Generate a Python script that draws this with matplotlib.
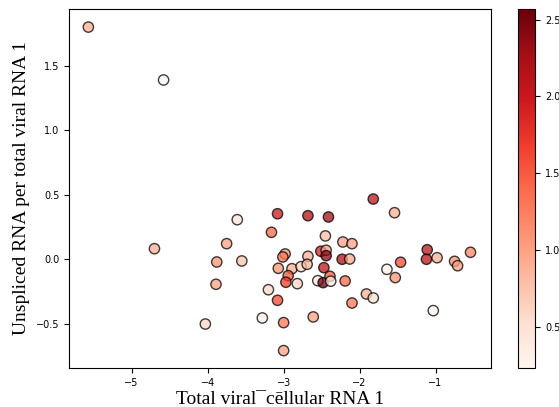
import matplotlib
matplotlib.use('Agg')
import matplotlib.pyplot as plt
import matplotlib.cm as cm
import matplotlib.colors as mcolors

# total viral/cellular RNA (x), unspliced per total viral RNA (y), colour value
x = [-5.57, -4.58, -4.70, -3.61, -3.08, -2.68, -2.41, -1.82, -1.54, -3.16,
     -3.75, -2.45, -2.22, -2.10, -3.88, -3.55, -2.98, -3.01, -2.68, -2.51,
     -2.44, -2.44, -2.23, -2.13, -3.07, -2.89, -2.77, -2.69, -2.47, -2.94,
     -2.97, -2.82, -2.55, -2.48, -2.39, -2.38, -2.19, -1.46, -1.64, -1.53,
     -1.11, -1.12, -0.98, -0.75, -0.71, -0.54, -3.89, -3.20, -3.08, -1.91,
     -1.82, -2.10, -1.03, -4.03, -3.28, -3.00, -2.61, -3.00]
y = [1.80, 1.39, 0.082, 0.307, 0.353, 0.338, 0.328, 0.467, 0.361, 0.209,
     0.121, 0.181, 0.134, 0.121, -0.021, -0.013, 0.041, 0.018, 0.023, 0.062,
     0.070, 0.028, 0.000, 0.002, -0.070, -0.073, -0.057, -0.039, -0.065, -0.127,
     -0.178, -0.189, -0.166, -0.181, -0.132, -0.170, -0.168, -0.023, -0.078, -0.142,
     0.074, 0.000, 0.012, -0.016, -0.050, 0.054, -0.194, -0.236, -0.318, -0.269,
     -0.300, -0.339, -0.398, -0.502, -0.455, -0.491, -0.447, -0.708]
c = [0.90, 0.23, 0.90, 0.45, 2.00, 2.20, 2.30, 2.10, 0.90, 1.40,
     1.00, 0.80, 1.00, 1.00, 1.10, 0.75, 1.10, 1.30, 0.90, 1.90,
     1.00, 2.40, 2.20, 0.95, 1.10, 0.90, 0.60, 0.85, 2.10, 1.50,
     1.70, 0.60, 0.35, 2.57, 1.50, 0.40, 1.40, 1.60, 0.30, 1.10,
     2.10, 2.10, 0.90, 1.10, 1.00, 1.20, 1.00, 0.60, 1.60, 0.90,
     0.50, 1.30, 0.23, 0.60, 0.30, 1.30, 1.00, 1.00]

fig = plt.figure(figsize=(5.59, 4.07), dpi=100)
ax = fig.add_axes([0.1234, 0.0958, 0.755, 0.882])
cax = fig.add_axes([0.926, 0.0958, 0.0315, 0.882])

norm = mcolors.Normalize(vmin=min(c), vmax=max(c))
ax.scatter(x, y, c=c, cmap='Reds', norm=norm, s=55, alpha=0.75,
           edgecolors='black', linewidths=1)

# colorbar drawn opaque, like the original
cb = fig.colorbar(cm.ScalarMappable(norm=norm, cmap='Reds'), cax=cax)
cb.set_ticks([0.5, 1.0, 1.5, 2.0, 2.5])
cb.ax.tick_params(labelsize=7)

ax.set_xlim(-5.825, -0.27)
ax.set_ylim(-0.843, 1.94)
ax.set_xticks([-5, -4, -3, -2, -1])
ax.set_yticks([-0.5, 0.0, 0.5, 1.0, 1.5])
ax.tick_params(labelsize=7)

ax.set_xlabel('Total viral\u00afc\u0113llular RNA 1', family='Liberation Serif',
              fontsize=14, labelpad=2)
ax.set_ylabel('Unspliced RNA per total viral RNA 1', family='Liberation Serif',
              fontsize=14, labelpad=4)

fig.savefig('out.png', dpi=100)
